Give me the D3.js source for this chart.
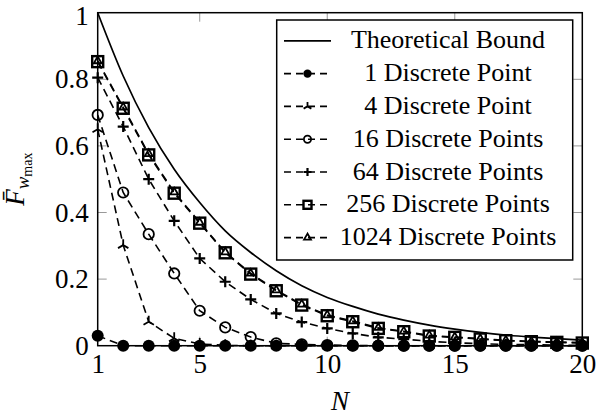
<!DOCTYPE html>
<html>
<head>
<meta charset="utf-8">
<script src="https://cdn.jsdelivr.net/npm/d3@7"></script>
<style>
  body { margin: 0; background: #fff; }
</style>
</head>
<body>
<div id="my_dataviz"></div>
<script>
// data
const N = d3.range(1, 21);
const bound = [1, 0.81, 0.655, 0.53, 0.43, 0.345, 0.28, 0.225, 0.18, 0.145, 0.118, 0.095, 0.077, 0.062, 0.05, 0.04, 0.032, 0.026, 0.021, 0.017];
const pts1 = [0.03, 0, 0, 0, 0, 0, 0, 0, 0, 0, 0, 0, 0, 0, 0, 0, 0, 0, 0, 0];
const pts4 = [0.65, 0.302, 0.072, 0.022, 0.005, 0.001, 0, 0, 0, 0, 0, 0, 0, 0, 0, 0, 0, 0, 0, 0];
const pts16 = [0.693, 0.46, 0.335, 0.217, 0.105, 0.055, 0.026, 0.007, 0.004, 0.002, 0.001, 0, 0, 0, 0, 0, 0, 0, 0, 0];
const pts64 = [0.805, 0.658, 0.5, 0.375, 0.262, 0.192, 0.139, 0.097, 0.071, 0.052, 0.037, 0.025, 0.02, 0.013, 0.009, 0.006, 0.004, 0.003, 0.002, 0.001];
const pts256 = [0.853, 0.713, 0.573, 0.458, 0.368, 0.279, 0.215, 0.165, 0.122, 0.09, 0.072, 0.052, 0.042, 0.029, 0.025, 0.02, 0.015, 0.012, 0.01, 0.008];
const pts1024 = [0.855, 0.716, 0.576, 0.461, 0.37, 0.281, 0.217, 0.167, 0.124, 0.092, 0.074, 0.054, 0.043, 0.031, 0.026, 0.021, 0.016, 0.013, 0.011, 0.009];
const xTicks = [1, 5, 10, 15, 20];
const yTicks = [0, 0.2, 0.4, 0.6, 0.8, 1];
const labels = ["Theoretical Bound", "1 Discrete Point", "4 Discrete Point", "16 Discrete Points",
                "64 Discrete Points", "256 Discrete Points", "1024 Discrete Points"];

const series = [
  { values: pts1, mark: "dot" },
  { values: pts4, mark: "tri" },
  { values: pts16, mark: "circle" },
  { values: pts64, mark: "plus" },
  { values: pts256, mark: "square" },
  { values: pts1024, mark: "triangle" }
];

const serif = "Liberation Serif";

// set the dimensions and margins of the graph
const margin = { top: 12.7, right: 13.7, bottom: 72.3, left: 97.7 };
const width = 596 - margin.left - margin.right;
const height = 418 - margin.top - margin.bottom;

const svgRoot = d3.select("#my_dataviz")
  .append("svg")
  .attr("width", 596)
  .attr("height", 418);
const svg = svgRoot.append("g")
  .attr("transform", `translate(${margin.left}, ${margin.top})`);

const x = d3.scaleLinear().domain([1, 20]).range([0, width]);
const y = d3.scaleLinear().domain([0, 1]).range([height, 0]);

// small inner ticks (top/bottom and left/right)
const tickLen = 9;
xTicks.slice(1, -1).forEach(t => {
  svg.append("line").attr("x1", x(t)).attr("x2", x(t)).attr("y1", 0).attr("y2", tickLen)
    .attr("stroke", "#999").attr("stroke-width", 1);
  svg.append("line").attr("x1", x(t)).attr("x2", x(t)).attr("y1", height).attr("y2", height - tickLen)
    .attr("stroke", "#999").attr("stroke-width", 1);
});
yTicks.slice(1, -1).forEach(t => {
  svg.append("line").attr("x1", 0).attr("x2", tickLen).attr("y1", y(t)).attr("y2", y(t))
    .attr("stroke", "#999").attr("stroke-width", 1);
  svg.append("line").attr("x1", width).attr("x2", width - tickLen).attr("y1", y(t)).attr("y2", y(t))
    .attr("stroke", "#999").attr("stroke-width", 1);
});

// axes (labels only, frame drawn separately)
svg.append("g")
  .attr("transform", `translate(0, ${height})`)
  .call(d3.axisBottom(x).tickValues(xTicks).tickSize(0).tickPadding(8))
  .call(g => g.select(".domain").remove())
  .selectAll("text").attr("font-family", serif).attr("font-size", 27);

svg.append("g")
  .call(d3.axisLeft(y).tickValues(yTicks).tickSize(0).tickPadding(9)
    .tickFormat(d => (d === 0 || d === 1) ? d : d.toFixed(1)))
  .call(g => g.select(".domain").remove())
  .selectAll("text")
  .attr("font-family", serif).attr("font-size", 27)
  .attr("dy", d => d === 1 ? "0.42em" : "0.32em");

// marker drawing
function drawMark(g, type, cx, cy, s) {
  if (type === "dot") {
    g.append("circle").attr("cx", cx).attr("cy", cy).attr("r", s.dot).attr("fill", "#000");
  } else if (type === "circle") {
    g.append("circle").attr("cx", cx).attr("cy", cy).attr("r", s.circle)
      .attr("fill", "none").attr("stroke", "#000").attr("stroke-width", 1.8);
  } else if (type === "plus") {
    const a = s.plus;
    g.append("path").attr("d", `M${cx - a},${cy}H${cx + a}M${cx},${cy - a}V${cy + a}`)
      .attr("stroke", "#000").attr("stroke-width", 2.2).attr("fill", "none");
  } else if (type === "tri") {
    const a = s.tri;
    const p = [90, 210, 330].map(ang => {
      const r = ang * Math.PI / 180;
      return `M${cx},${cy}L${cx + a * Math.cos(r)},${cy - a * Math.sin(r)}`;
    }).join("");
    g.append("path").attr("d", p).attr("stroke", "#000").attr("stroke-width", 1.8).attr("fill", "none");
  } else if (type === "square") {
    const a = s.square;
    g.append("rect").attr("x", cx - a).attr("y", cy - a).attr("width", 2 * a).attr("height", 2 * a)
      .attr("fill", "none").attr("stroke", "#000").attr("stroke-width", 2.4);
  } else if (type === "triangle") {
    const a = s.triangle;
    const pts = [90, 210, 330].map(ang => {
      const r = ang * Math.PI / 180;
      return [cx + a * Math.cos(r), cy - a * Math.sin(r)];
    });
    g.append("path").attr("d", "M" + pts.join("L") + "Z")
      .attr("fill", "none").attr("stroke", "#000").attr("stroke-width", 1.8);
  }
}

const plotSize = { dot: 6, circle: 5.2, plus: 5.5, tri: 6, square: 5.5, triangle: 4.5 };
const legendSize = { dot: 4.2, circle: 3.6, plus: 4, tri: 4.5, square: 4, triangle: 4 };

// theoretical bound
svg.append("path")
  .datum(bound)
  .attr("fill", "none")
  .attr("stroke", "#000")
  .attr("stroke-width", 1.7)
  .attr("d", d3.line().x((d, i) => x(N[i])).y(d => y(d)).curve(d3.curveMonotoneX));

// discrete series
const lineGen = d3.line().x((d, i) => x(N[i])).y(d => y(d));
series.forEach(s => {
  const g = svg.append("g");
  g.append("path")
    .datum(s.values)
    .attr("fill", "none")
    .attr("stroke", "#000")
    .attr("stroke-width", 1.6)
    .attr("stroke-dasharray", "8,5")
    .attr("d", lineGen);
  s.values.forEach((v, i) => drawMark(g, s.mark, x(N[i]), y(v), plotSize));
});

// frame
svg.append("rect")
  .attr("x", 0).attr("y", 0).attr("width", width).attr("height", height)
  .attr("fill", "none").attr("stroke", "#000").attr("stroke-width", 1.5);

// axis labels
svgRoot.append("text")
  .attr("x", margin.left + width / 2)
  .attr("y", 410)
  .attr("text-anchor", "middle")
  .attr("font-family", serif)
  .attr("font-size", 27)
  .attr("font-style", "italic")
  .text("N");

const ylab = svgRoot.append("text")
  .attr("transform", `translate(24, ${margin.top + height / 2}) rotate(-90)`)
  .attr("text-anchor", "middle")
  .attr("font-family", serif);
ylab.append("tspan").attr("font-size", 27).attr("font-style", "italic").text("F\u0304");
ylab.append("tspan").attr("dy", 5).attr("font-size", 19).attr("font-style", "italic").text("w");
ylab.append("tspan").attr("dy", 3).attr("font-size", 14).text("max");

// legend
const legend = svgRoot.append("g");
legend.append("rect")
  .attr("x", 276.7).attr("y", 20).attr("width", 296).attr("height", 240)
  .attr("fill", "#fff").attr("stroke", "#000").attr("stroke-width", 1.5);

labels.forEach((lab, i) => {
  const base = 48.3 + i * 32.8;
  const ly = base - 7.5;
  if (i === 0) {
    legend.append("line").attr("x1", 284).attr("x2", 331).attr("y1", ly).attr("y2", ly)
      .attr("stroke", "#000").attr("stroke-width", 1.7);
  } else {
    legend.append("line").attr("x1", 284).attr("x2", 331).attr("y1", ly).attr("y2", ly)
      .attr("stroke", "#000").attr("stroke-width", 1.6).attr("stroke-dasharray", "7,5");
    drawMark(legend, series[i - 1].mark, 307.5, ly, legendSize);
  }
  legend.append("text")
    .attr("x", 448)
    .attr("y", base)
    .attr("text-anchor", "middle")
    .attr("font-family", serif)
    .attr("font-size", 26)
    .text(lab);
});
</script>
</body>
</html>
